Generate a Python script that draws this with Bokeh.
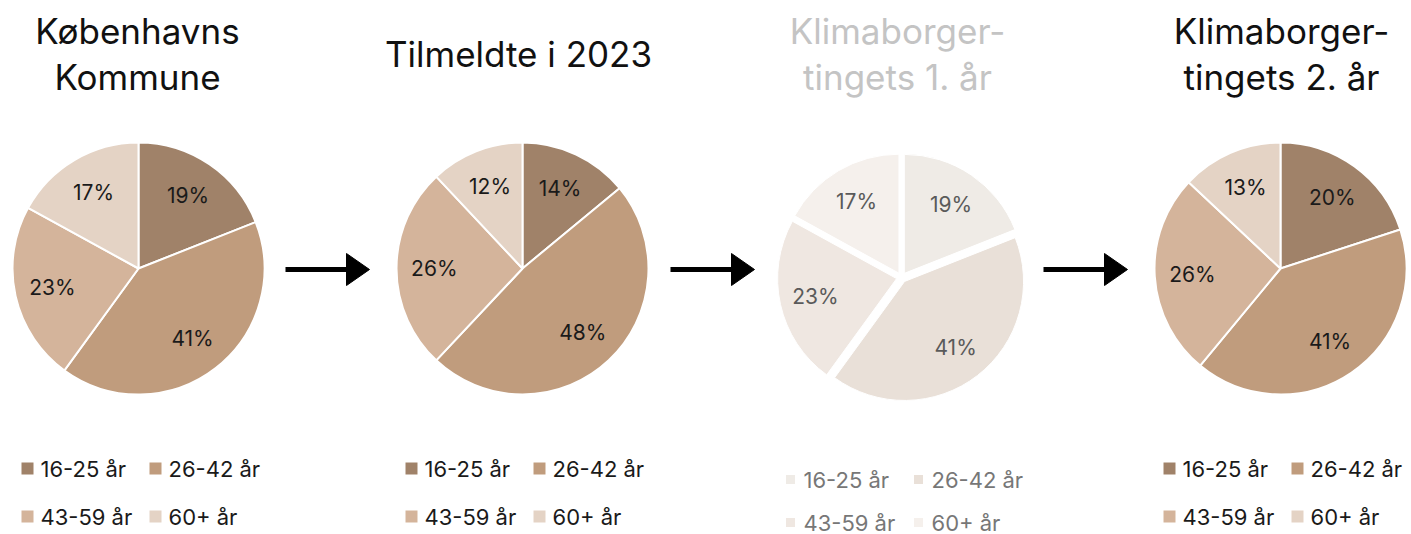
import numpy as np
from bokeh.plotting import figure
from bokeh.models import Range1d
from bokeh.embed import file_html
from bokeh.resources import INLINE
from bokeh.core.properties import value

# ---------------- data ----------------
categories = ["16-25 år", "26-42 år", "43-59 år", "60+ år"]
titles = [["Københavns", "Kommune"], ["Tilmeldte i 2023"],
          ["Klimaborger-", "tingets 1. år"], ["Klimaborger-", "tingets 2. år"]]
kobenhavn = [19, 41, 23, 17]
tilmeldte = [14, 48, 26, 12]
aar1 = [19, 41, 23, 17]
aar2 = [20, 41, 26, 13]
series = [kobenhavn, tilmeldte, aar1, aar2]

colors = ["#a08269", "#c09c7d", "#d4b49b", "#e4d3c5"]
faded_colors = ["#efebe6", "#e9e0d8", "#efe7e1", "#f5f0ec"]

# ---------------- layout (pixel coordinates) ----------------
W, H = 1411, 534
FONT = "Inter"
def Y(yp):
    return H - yp

panels = [
    dict(cx=138, cy=268, r=126, explode=0, title_x=137, title_y=[30, 76],
         leg_y=[468, 516], faded=False),
    dict(cx=522, cy=268, r=126, explode=0, title_x=518, title_y=[53],
         leg_y=[468, 516], faded=False),
    dict(cx=901, cy=277, r=119, explode=5, title_x=897, title_y=[30, 76],
         leg_y=[479, 522], faded=True),
    dict(cx=1280, cy=268, r=126, explode=0, title_x=1281, title_y=[30, 76],
         leg_y=[468, 516], faded=False),
]

p = figure(width=W, height=H, output_backend="svg", toolbar_location=None,
           x_range=Range1d(0, W), y_range=Range1d(0, H),
           min_border=0, min_border_left=0, min_border_right=0,
           min_border_top=0, min_border_bottom=0)
p.axis.visible = False
p.grid.visible = False
p.outline_line_color = None
p.background_fill_color = "white"
p.border_fill_color = "white"

for i, (vals, pan, ttl) in enumerate(zip(series, panels, titles)):
    vals = np.array(vals, dtype=float)
    frac = vals / vals.sum()
    cum = np.concatenate([[0], np.cumsum(frac)])
    # angles: start at 12 o'clock, clockwise
    start = np.pi / 2 - 2 * np.pi * cum[:-1]
    end = np.pi / 2 - 2 * np.pi * cum[1:]
    mid = (start + end) / 2
    cx, cy = pan["cx"], Y(pan["cy"])
    ex = pan["explode"]
    xs = cx + ex * np.cos(mid)
    ys = cy + ex * np.sin(mid)
    cols = faded_colors if pan["faded"] else colors
    p.wedge(x=xs, y=ys, radius=pan["r"], start_angle=start, end_angle=end,
            direction="clock", fill_color=cols, line_color="white",
            line_width=2 if not pan["faded"] else 1)
    lr = pan["r"] * 0.70
    lx = xs + lr * np.cos(mid)
    ly = ys + lr * np.sin(mid)
    labels = [f"{int(v)}%" for v in vals]
    p.text(x=lx, y=ly, text=labels, text_align="center", text_baseline="middle",
           text_font=value(FONT), text_font_size="21px",
           text_color="#5a5a5a" if pan["faded"] else "#1a1a1a")
    # title
    tcol = "#c4c4c4" if pan["faded"] else "#111111"
    p.text(x=[pan["title_x"]] * len(ttl), y=[Y(t) for t in pan["title_y"]], text=ttl,
           text_align="center", text_baseline="middle",
           text_font=value(FONT), text_font_size="35px", text_color=tcol)
    # legend
    sq_x = [pan["cx"] - 111, pan["cx"] + 17, pan["cx"] - 111, pan["cx"] + 17]
    tx_x = [pan["cx"] - 98, pan["cx"] + 30, pan["cx"] - 98, pan["cx"] + 30]
    ly_ = [Y(pan["leg_y"][0]), Y(pan["leg_y"][0]), Y(pan["leg_y"][1]), Y(pan["leg_y"][1])]
    p.scatter(x=sq_x, y=ly_, marker="square", size=9 if pan["faded"] else 12,
              fill_color=cols, line_color=None)
    p.text(x=tx_x, y=ly_, text=categories, text_align="left", text_baseline="middle",
           text_font=value(FONT), text_font_size="22px",
           text_color="#777777" if pan["faded"] else "#1a1a1a")

# arrows between panels
arrow_x0 = [285, 670, 1043]
ay = Y(269)
for x0 in arrow_x0:
    p.segment(x0=[x0], y0=[ay], x1=[x0 + 64], y1=[ay], line_color="black",
              line_width=5)
    p.patch(x=[x0 + 61, x0 + 84, x0 + 61], y=[ay + 16, ay, ay - 16],
            fill_color="black", line_color="black", line_width=1)

open("out.html", "w").write(file_html(p, INLINE))
